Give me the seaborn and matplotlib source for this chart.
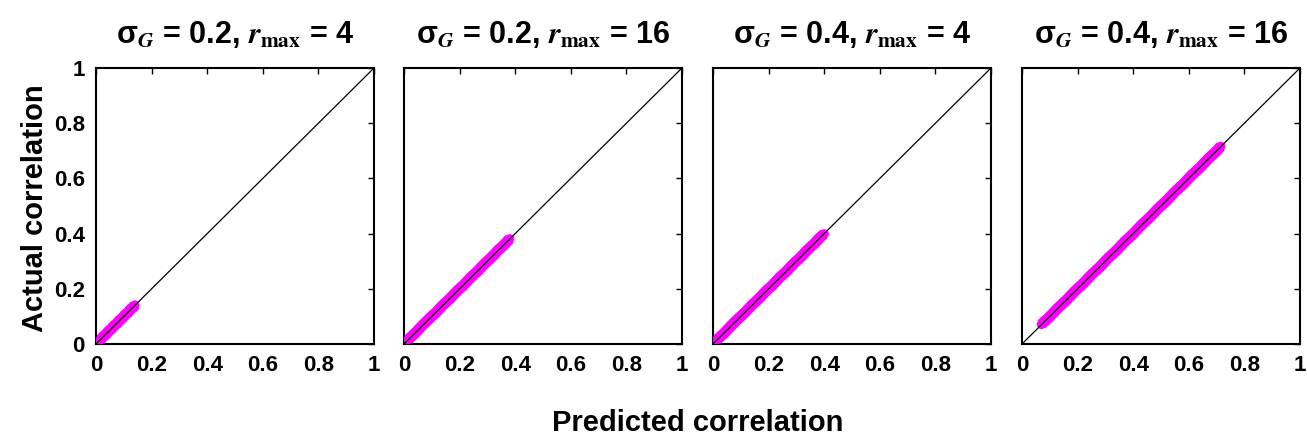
import matplotlib
matplotlib.use("Agg")
import matplotlib.pyplot as plt
import seaborn as sns
import pandas as pd

sns.set_style("white")
plt.rcParams['font.family'] = ['Liberation Sans', 'DejaVu Sans']
plt.rcParams['font.weight'] = 'bold'
plt.rcParams['mathtext.fontset'] = 'stix'
plt.rcParams['text.color'] = 'black'
plt.rcParams['xtick.color'] = 'black'
plt.rcParams['ytick.color'] = 'black'

# panel titles
titles = [r'σ$_G$ = 0.2, $r_{\rm max}$ = 4',
          r'σ$_G$ = 0.2, $r_{\rm max}$ = 16',
          r'σ$_G$ = 0.4, $r_{\rm max}$ = 4',
          r'σ$_G$ = 0.4, $r_{\rm max}$ = 16']

# predicted vs actual correlation
pred_1 = [0.005, 0.015, 0.025, 0.035, 0.045, 0.055, 0.065, 0.075, 0.085, 0.095, 0.105, 0.115, 0.125, 0.135, 0.14]
act_1 = [0.006, 0.014, 0.026, 0.034, 0.046, 0.054, 0.066, 0.074, 0.086, 0.094, 0.106, 0.114, 0.126, 0.134, 0.141]
pred_2 = [0.015, 0.04, 0.065, 0.09, 0.115, 0.14, 0.165, 0.19, 0.215, 0.24, 0.265, 0.29, 0.315, 0.34, 0.36, 0.38]
act_2 = [0.016, 0.039, 0.066, 0.091, 0.114, 0.141, 0.164, 0.191, 0.214, 0.241, 0.264, 0.291, 0.314, 0.341, 0.359, 0.381]
pred_3 = [0.012, 0.04, 0.065, 0.09, 0.115, 0.14, 0.165, 0.19, 0.215, 0.24, 0.265, 0.29, 0.315, 0.34, 0.365, 0.385, 0.4]
act_3 = [0.013, 0.039, 0.066, 0.091, 0.114, 0.141, 0.164, 0.191, 0.214, 0.241, 0.264, 0.291, 0.314, 0.341, 0.364, 0.386, 0.399]
pred_4 = [0.07, 0.1, 0.13, 0.16, 0.19, 0.22, 0.25, 0.28, 0.31, 0.34, 0.37, 0.4, 0.43, 0.46, 0.49, 0.52, 0.55, 0.58, 0.61, 0.64, 0.67, 0.7, 0.715]
act_4 = [0.071, 0.099, 0.131, 0.159, 0.191, 0.219, 0.251, 0.279, 0.311, 0.339, 0.371, 0.399, 0.431, 0.459, 0.491, 0.519, 0.551, 0.579, 0.611, 0.639, 0.671, 0.699, 0.716]

preds = [pred_1, pred_2, pred_3, pred_4]
acts = [act_1, act_2, act_3, act_4]

ticks = [0, 0.2, 0.4, 0.6, 0.8, 1]
tick_labels = ['0', '0.2', '0.4', '0.6', '0.8', '1']

fig = plt.figure(figsize=(13.07, 4.38), dpi=100)
lefts = [96, 404, 713, 1022]
for i in range(4):
    ax = fig.add_axes([lefts[i] / 1307, 94 / 438, 278 / 1307, 276 / 438])
    df = pd.DataFrame({'pred': preds[i], 'act': acts[i]})
    ax.plot(df['pred'], df['act'], color='#ff00ff', lw=8, solid_capstyle='butt', zorder=2)
    sns.scatterplot(data=df, x='pred', y='act', color='#ff00ff', s=45, edgecolor='none', ax=ax, zorder=3)
    ax.plot([0, 1], [0, 1], color='black', lw=0.9, zorder=4)
    ax.set_xlim(0, 1)
    ax.set_ylim(0, 1)
    ax.set_xticks(ticks)
    ax.set_xticklabels(tick_labels)
    ax.set_yticks(ticks)
    if i == 0:
        ax.set_yticklabels(tick_labels)
    else:
        ax.set_yticklabels([])
    ax.tick_params(direction='in', top=True, right=True, length=4, width=1,
                   labelsize=16, pad=8)
    for s in ax.spines.values():
        s.set_linewidth(1.5)
        s.set_color('black')
    ax.set_xlabel('')
    ax.set_ylabel('')
    ax.set_title(titles[i], fontsize=22, fontweight='bold', pad=18)

fig.text(0.027, 0.525, 'Actual correlation', rotation=90,
         ha='center', va='center', fontsize=21, fontweight='bold')
fig.text(0.534, 0.035, 'Predicted correlation', ha='center', va='center',
         fontsize=21, fontweight='bold')

fig.savefig('out.png', dpi=100)
